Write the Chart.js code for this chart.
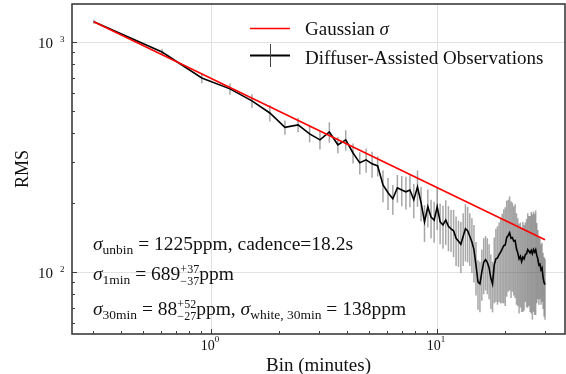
<!DOCTYPE html>
<html>
<head>
<meta charset="utf-8">
<script src="https://cdn.jsdelivr.net/npm/chart.js@4/dist/chart.umd.min.js"></script>
<style>
  html, body { margin: 0; padding: 0; background: #fff; }
  #wrap { width: 566px; height: 374px; }
</style>
</head>
<body>
<div id="wrap"><canvas id="c" width="566" height="374"></canvas></div>
<script>
// Bin widths in minutes (multiples of the 18.2 s cadence)
const binMinutes = [
  0.303, 0.607, 0.910, 1.213, 1.517, 1.820, 2.123, 2.427, 2.730, 3.033,
  3.337, 3.640, 3.943, 4.247, 4.550, 4.853, 5.157, 5.460, 5.763, 6.067,
  6.370, 6.673, 6.977, 7.280, 7.583, 7.887, 8.190, 8.493, 8.797, 9.100,
  9.403, 9.707, 10.010, 10.313, 10.617, 10.920, 11.223, 11.527, 11.830, 12.133,
  12.437, 12.740, 13.043, 13.347, 13.650, 13.953, 14.257, 14.560, 14.863, 15.167,
  15.470, 15.773, 16.077, 16.380, 16.683, 16.987, 17.290, 17.593, 17.897, 18.200,
  18.503, 18.807, 19.110, 19.413, 19.717, 20.020, 20.323, 20.627, 20.930, 21.233,
  21.537, 21.840, 22.143, 22.447, 22.750, 23.053, 23.357, 23.660, 23.963, 24.267,
  24.570, 24.873, 25.177, 25.480, 25.783, 26.087, 26.390, 26.693, 26.997, 27.300,
  27.603, 27.907, 28.210, 28.513, 28.817, 29.120, 29.423, 29.727, 30.030
];

// Binned RMS scatter (ppm)
const rms = [
  1225, 904, 697, 625, 554, 491, 425, 436, 398, 375,
  406, 357, 375, 329, 298, 307, 295, 289, 239, 221,
  208, 232, 227, 223, 227, 206, 234, 200, 165, 192,
  173, 168, 192, 165, 160, 168, 158, 154, 151, 140,
  136, 132, 143, 154, 151, 143, 135, 125, 107, 90.4,
  88.7, 100, 110, 113, 110, 104, 94, 88.7, 107, 114,
  115, 119, 122, 126, 130, 131, 141, 144, 148, 140,
  141, 136, 137, 126, 121, 114, 117, 111, 116, 114,
  119, 120, 125, 123, 121, 124, 120, 125, 122, 125,
  118, 114, 107, 108, 102, 104, 95, 90, 88
];

// 1-sigma uncertainty on each RMS value (ppm)
const rmsErr = [
  25, 27, 35, 35, 38, 40, 30, 31, 32, 34,
  41, 29, 38, 33, 33, 37, 38, 29, 38, 35,
  31, 32, 34, 36, 36, 35, 42, 34, 30, 36,
  33, 34, 40, 33, 34, 37, 35, 32, 35, 34,
  31, 33, 37, 43, 41, 37, 36, 35, 28, 22,
  22, 25, 30, 30, 30, 28, 25, 22, 34, 40,
  43, 45, 49, 53, 57, 60, 63, 62, 65, 63,
  59, 57, 60, 54, 50, 48, 47, 44, 49, 46,
  45, 50, 55, 52, 54, 58, 58, 58, 57, 60,
  45, 38, 35, 32, 30, 30, 26, 26, 26
];

// White-noise expectation (straight line in log-log)
const gaussBins = [0.303, 30.03];
const gaussSigma = [1225, 138];

// Axis ranges and ticks
const xRange = [0.2426, 36.8];
const yRange = [53.7, 1462];
const xMajor = [1, 10];
const xMajorExp = ['0', '1'];
const xMinor = [0.3, 0.4, 0.5, 0.6, 0.7, 0.8, 0.9, 2, 3, 4, 5, 6, 7, 8, 9, 20, 30];
const yMajor = [100, 1000];
const yMajorExp = ['2', '3'];
const yMinor = [60, 70, 80, 90, 200, 300, 400, 500, 600, 700, 800, 900];

const SERIF = '"Liberation Serif", "Times New Roman", serif';
const font = (size, italic) => (italic ? 'italic ' : '') + size + 'px ' + SERIF;
const TEXT = '#111';

function drawRich(ctx, x, y, parts) {
  for (const p of parts) {
    if (p.stack) {
      ctx.font = font(p.size, false);
      const w = Math.max(ctx.measureText(p.stack[0]).width, ctx.measureText(p.stack[1]).width);
      ctx.fillText(p.stack[0], x, y - p.up);
      ctx.fillText(p.stack[1], x, y + p.down);
      x += w + (p.gap || 0);
    } else {
      ctx.font = font(p.size, p.italic);
      ctx.fillText(p.t, x, y + (p.dy || 0));
      x += ctx.measureText(p.t).width + (p.gap || 0);
    }
  }
  return x;
}

const underlay = {
  id: 'underlay',
  beforeDatasetsDraw(chart) {
    const { ctx, chartArea: a, scales: { x, y } } = chart;
    ctx.save();
    // major grid
    ctx.strokeStyle = '#e2e2e2';
    ctx.lineWidth = 1;
    xMajor.forEach(v => {
      const px = Math.round(x.getPixelForValue(v)) + 0.5;
      ctx.beginPath(); ctx.moveTo(px, a.top); ctx.lineTo(px, a.bottom); ctx.stroke();
    });
    yMajor.forEach(v => {
      const py = Math.round(y.getPixelForValue(v)) + 0.5;
      ctx.beginPath(); ctx.moveTo(a.left, py); ctx.lineTo(a.right, py); ctx.stroke();
    });
    // error bars
    ctx.beginPath();
    ctx.rect(a.left, a.top, a.right - a.left, a.bottom - a.top);
    ctx.clip();
    ctx.strokeStyle = 'rgba(80,80,80,0.5)';
    ctx.lineWidth = 1.5;
    binMinutes.forEach((b, i) => {
      const px = x.getPixelForValue(b);
      const hi = y.getPixelForValue(rms[i] + rmsErr[i]);
      const lo = y.getPixelForValue(Math.max(rms[i] - rmsErr[i], 1));
      ctx.beginPath(); ctx.moveTo(px, hi); ctx.lineTo(px, lo); ctx.stroke();
    });
    ctx.restore();
  }
};

const overlay = {
  id: 'overlay',
  afterDraw(chart) {
    const { ctx, chartArea: a, scales: { x, y } } = chart;
    ctx.save();
    // frame
    ctx.strokeStyle = '#3c3c3c';
    ctx.lineWidth = 1.6;
    ctx.strokeRect(a.left, a.top, a.right - a.left, a.bottom - a.top);

    // inward ticks
    ctx.lineWidth = 1;
    const tickX = (v, len) => {
      const px = Math.round(x.getPixelForValue(v)) + 0.5;
      ctx.beginPath(); ctx.moveTo(px, a.bottom); ctx.lineTo(px, a.bottom - len); ctx.stroke();
    };
    const tickY = (v, len) => {
      const py = Math.round(y.getPixelForValue(v)) + 0.5;
      ctx.beginPath(); ctx.moveTo(a.left, py); ctx.lineTo(a.left + len, py); ctx.stroke();
    };
    xMajor.forEach(v => tickX(v, 5));
    xMinor.forEach(v => tickX(v, 3));
    yMajor.forEach(v => tickY(v, 5));
    yMinor.forEach(v => tickY(v, 3));

    // tick labels
    ctx.fillStyle = TEXT;
    ctx.textBaseline = 'alphabetic';
    xMajor.forEach((v, i) => {
      const px = x.getPixelForValue(v);
      ctx.font = font(14, false);
      const w1 = ctx.measureText('10').width;
      ctx.font = font(9, false);
      const w2 = ctx.measureText(xMajorExp[i]).width;
      const x0 = px - (w1 + w2) / 2 - 1;
      ctx.font = font(14, false);
      ctx.textAlign = 'left';
      ctx.fillText('10', x0, a.bottom + 16);
      ctx.font = font(9, false);
      ctx.fillText(xMajorExp[i], x0 + w1, a.bottom + 8);
    });
    yMajor.forEach((v, i) => {
      const py = y.getPixelForValue(v);
      ctx.font = font(15, false);
      ctx.textAlign = 'right';
      ctx.fillText('10', 53, py + 6);
      ctx.font = font(9, false);
      ctx.textAlign = 'left';
      ctx.fillText(yMajorExp[i], 60, py);
    });

    // axis titles
    ctx.font = font(19, false);
    ctx.textAlign = 'center';
    ctx.fillText('Bin (minutes)', (a.left + a.right) / 2, 371);
    ctx.save();
    ctx.translate(28, (a.top + a.bottom) / 2);
    ctx.rotate(-Math.PI / 2);
    ctx.font = font(18, false);
    ctx.fillText('RMS', 0, 0);
    ctx.restore();

    // legend
    ctx.textAlign = 'left';
    ctx.strokeStyle = '#ff0000';
    ctx.lineWidth = 1.5;
    ctx.beginPath(); ctx.moveTo(250, 28.5); ctx.lineTo(290, 28.5); ctx.stroke();
    drawRich(ctx, 305, 35, [
      { t: 'Gaussian ', size: 19 },
      { t: 'σ', size: 19, italic: true }
    ]);
    ctx.strokeStyle = '#000';
    ctx.lineWidth = 2;
    ctx.beginPath(); ctx.moveTo(250, 55.5); ctx.lineTo(290, 55.5); ctx.stroke();
    ctx.strokeStyle = '#444';
    ctx.lineWidth = 1;
    ctx.beginPath(); ctx.moveTo(270.5, 44); ctx.lineTo(270.5, 67); ctx.stroke();
    ctx.font = font(19, false);
    ctx.fillText('Diffuser-Assisted Observations', 305, 64);

    // statistics
    const M = 19.5, S = 13.5, T = 12;
    drawRich(ctx, 93, 250, [
      { t: 'σ', size: M, italic: true },
      { t: 'unbin', size: S, dy: 4 },
      { t: ' = 1225', size: M },
      { t: 'ppm, cadence=18.2s', size: M }
    ]);
    drawRich(ctx, 93, 280, [
      { t: 'σ', size: M, italic: true },
      { t: '1min', size: S, dy: 4 },
      { t: ' = 689', size: M },
      { stack: ['+37', '\u221237'], size: T, up: 7, down: 5 },
      { t: 'ppm', size: M }
    ]);
    drawRich(ctx, 93, 315, [
      { t: 'σ', size: M, italic: true },
      { t: '30min', size: S, dy: 4 },
      { t: ' = 88', size: M },
      { stack: ['+52', '\u221227'], size: T, up: 7, down: 5 },
      { t: 'ppm, ', size: M },
      { t: 'σ', size: M, italic: true },
      { t: 'white, 30min', size: S, dy: 4 },
      { t: ' = 138ppm', size: M }
    ]);
    ctx.restore();
  }
};

new Chart(document.getElementById('c'), {
  type: 'line',
  data: {
    datasets: [
      {
        label: 'Gaussian σ',
        data: gaussBins.map((b, i) => ({ x: b, y: gaussSigma[i] })),
        borderColor: '#ff0000',
        borderWidth: 1.6,
        pointRadius: 0,
        tension: 0
      },
      {
        label: 'Diffuser-Assisted Observations',
        data: binMinutes.map((b, i) => ({ x: b, y: rms[i] })),
        borderColor: '#000000',
        borderWidth: 1.6,
        pointRadius: 0,
        tension: 0
      }
    ]
  },
  options: {
    responsive: false,
    animation: false,
    devicePixelRatio: 1,
    layout: { padding: { left: 72, top: 4, right: 1, bottom: 40 } },
    plugins: { legend: { display: false }, tooltip: { enabled: false } },
    scales: {
      x: { type: 'logarithmic', min: xRange[0], max: xRange[1], bounds: 'data', display: false },
      y: { type: 'logarithmic', min: yRange[0], max: yRange[1], bounds: 'data', display: false }
    }
  },
  plugins: [underlay, overlay]
});
</script>
</body>
</html>
